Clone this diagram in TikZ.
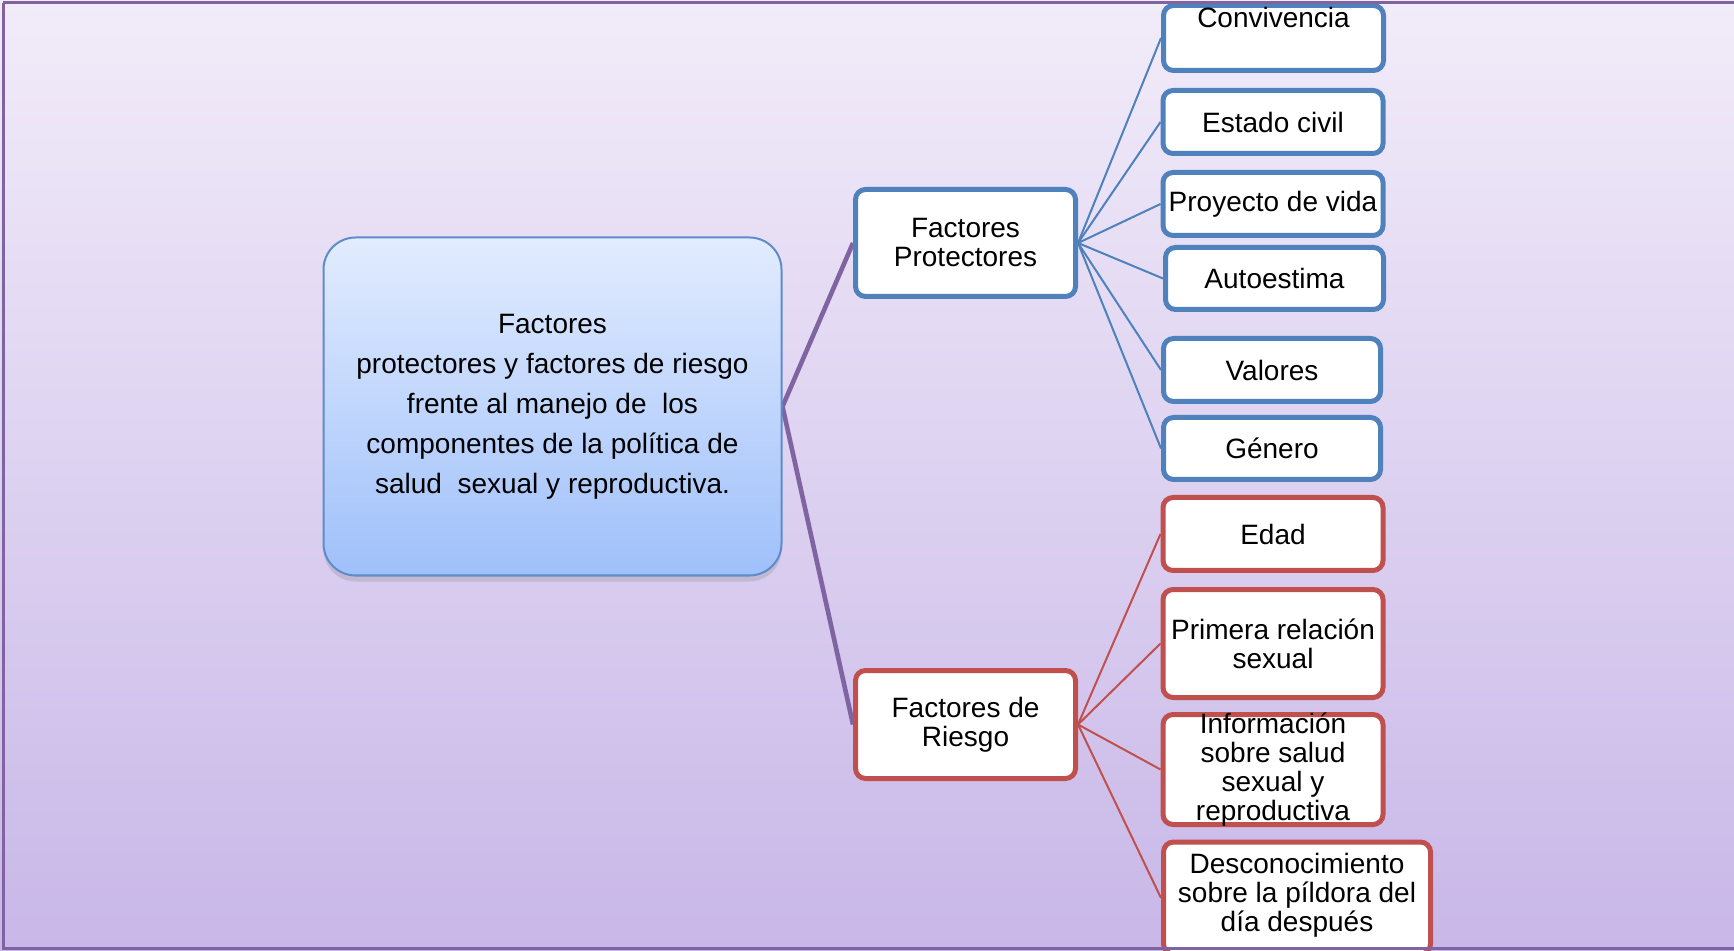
\documentclass[tikz,border=0pt]{standalone}
\usepackage{fontspec}
\setmainfont{Liberation Sans}
\usetikzlibrary{shadows}
\definecolor{bgtop}{RGB}{242,236,249}
\definecolor{bgbot}{RGB}{200,183,232}
\definecolor{framec}{RGB}{128,100,162}
\definecolor{mtop}{RGB}{226,236,254}
\definecolor{mbot}{RGB}{159,192,250}
\definecolor{mborder}{RGB}{95,140,200}
\definecolor{bluec}{RGB}{79,129,189}
\definecolor{redc}{RGB}{192,80,77}
\definecolor{purplec}{RGB}{128,100,162}
\pgfdeclarelayer{bg}
\pgfdeclarelayer{links}
\pgfsetlayers{bg,links,main}
\tikzset{
  childbox/.style={fill=white, line width=2.5pt, rounded corners=5pt,
    minimum width=110pt, inner sep=0pt},
  bluebox/.style={childbox, draw=bluec},
  redbox/.style={childbox, draw=redc},
  lbl/.style={font=\fontsize{14}{14.5}\selectfont, align=center, inner sep=0pt},
  bluelink/.style={draw=bluec, line width=1pt},
  redlink/.style={draw=redc, line width=1pt},
  mainlink/.style={draw=purplec, line width=2.3pt},
}
\begin{document}
\begin{tikzpicture}[x=0.5pt,y=-0.5pt]
\useasboundingbox (0,0) rectangle (1734,951);
\begin{pgfonlayer}{bg}
\fill[top color=bgtop, bottom color=bgbot] (0,0) rectangle (1734,951);
\end{pgfonlayer}

% central node
\node[draw=mborder, line width=1pt, top color=mtop, bottom color=mbot,
  rounded corners=16pt, minimum width=229pt, minimum height=169pt,
  align=center, font=\fontsize{14}{20}\selectfont,
  drop shadow={shadow xshift=0pt, shadow yshift=-3pt, opacity=0.25}]
  (main) at (552.5,406.5)
  {Factores\\protectores y factores de riesgo\\frente al manejo de~ los\\componentes de la política de\\salud~ sexual y reproductiva.};

% second level
\node[bluebox, minimum height=53.5pt, label={[lbl]center:{Factores\\Protectores}}] (fp) at (965.5,243) {};
\node[redbox, minimum height=54pt, label={[lbl]center:{Factores de\\Riesgo}}] (fr) at (965.5,724.5) {};

% protective factors
\node[bluebox, minimum height=32.5pt, label={[lbl,yshift=10.5pt]center:Convivencia}] (conv) at (1273.5,38) {};
\node[bluebox, minimum height=31.5pt, label={[lbl]center:Estado civil}] (estado) at (1273,122) {};
\node[bluebox, minimum height=31.5pt, label={[lbl]center:Proyecto de vida}] (proy) at (1273,204) {};
\node[bluebox, minimum height=31pt, minimum width=109pt, label={[lbl]center:Autoestima}] (auto) at (1274.5,278.5) {};
\node[bluebox, minimum height=31.5pt, minimum width=108.5pt, label={[lbl]center:Valores}] (valores) at (1272,370) {};
\node[bluebox, minimum height=31pt, minimum width=108.5pt, label={[lbl]center:Género}] (genero) at (1272,448.5) {};

% risk factors
\node[redbox, minimum height=36.5pt, label={[lbl]center:Edad}] (edad) at (1273,534) {};
\node[redbox, minimum height=54pt, label={[lbl]center:{Primera relación\\sexual}}] (primera) at (1273,643.5) {};
\node[redbox, minimum height=55pt, label={[lbl]center:{Información\\sobre salud\\sexual y\\reproductiva}}] (info) at (1273,769.5) {};
\node[redbox, minimum height=56pt, minimum width=133.5pt, label={[lbl,yshift=1.5pt]center:{Desconocimiento\\sobre la píldora del\\día después}}] (desc) at (1297,898) {};

\begin{pgfonlayer}{links}
\draw[mainlink] (main.east) -- (fp.west);
\draw[mainlink] (main.east) -- (fr.west);
\foreach \c in {conv,estado,proy,auto,valores,genero}
  \draw[bluelink] (fp.east) -- (\c.west);
\foreach \c in {edad,primera,info,desc}
  \draw[redlink] (fr.east) -- (\c.west);
\end{pgfonlayer}

% frame
\draw[framec, line width=1.5pt] (3,3) -- (1740,3);
\draw[framec, line width=1.5pt] (3,3) -- (3,948) -- (1740,948);
\end{tikzpicture}
\end{document}
